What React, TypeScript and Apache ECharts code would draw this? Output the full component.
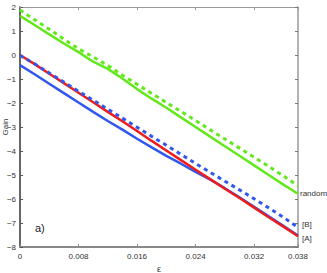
import React, { useEffect, useRef } from "react";
import * as echarts from "echarts";

const eps = [0, 0.002, 0.004, 0.006, 0.008, 0.01, 0.012, 0.014, 0.016, 0.018, 0.02, 0.022, 0.024, 0.026, 0.028, 0.03, 0.032, 0.034, 0.036, 0.038];
const gainA = [0, -0.38, -0.78, -1.17, -1.57, -1.97, -2.37, -2.76, -3.17, -3.58, -3.98, -4.38, -4.78, -5.17, -5.57, -5.96, -6.36, -6.76, -7.15, -7.55];
const gainBlue = [-0.42, -0.8, -1.2, -1.59, -1.98, -2.37, -2.75, -3.11, -3.49, -3.85, -4.2, -4.53, -4.87, -5.19, -5.55, -5.93, -6.32, -6.72, -7.12, -7.52];
const gainB = [-0.02, -0.37, -0.75, -1.13, -1.51, -1.88, -2.26, -2.63, -3.01, -3.39, -3.76, -4.14, -4.52, -4.89, -5.26, -5.62, -5.99, -6.37, -6.76, -7.18];
const gainRandom = [1.63, 1.25, 0.86, 0.48, 0.12, -0.28, -0.58, -0.98, -1.42, -1.82, -2.2, -2.6, -3.0, -3.4, -3.8, -4.2, -4.6, -5.0, -5.4, -5.78];
const gainRandomDash = [1.87, 1.47, 1.07, 0.66, 0.26, -0.08, -0.44, -0.84, -1.22, -1.6, -1.98, -2.35, -2.73, -3.12, -3.5, -3.88, -4.26, -4.64, -5.04, -5.45];

const pts = (ys: number[]) => eps.map((x, i) => [x, ys[i]]);

const FONT = "Liberation Sans";
const txt = "#333";

export default function App() {
  const ref = useRef<HTMLDivElement>(null);
  useEffect(() => {
    document.body.style.margin = "0";
    const chart = echarts.init(ref.current!, null, { renderer: "svg" });
    const green = "#63e81c";
    const red = "#ee1c1c";
    const blue = "#3158ee";
    const lineSeries = (name: string, ys: number[], color: string, dashed: boolean, label?: string, offset?: number[]) => ({
      type: "line",
      name,
      data: pts(ys),
      showSymbol: false,
      symbol: "none",
      lineStyle: { color, width: dashed ? 3 : 2.5, type: dashed ? [4, 4] : "solid" },
      z: dashed ? 3 : 2,
      endLabel: label
        ? {
            show: true,
            formatter: label,
            fontSize: 8,
            fontFamily: FONT,
            color: txt,
            distance: 2,
            offset: offset || [0, 0],
          }
        : { show: false },
    });
    chart.setOption({
      animation: false,
      grid: { left: 20, right: 29, top: 7, bottom: 26, containLabel: false, outerBoundsMode: "none" },
      xAxis: [
        {
          type: "value",
          min: 0,
          max: 0.038,
          interval: 0.008,
          name: "ε",
          nameLocation: "middle",
          nameGap: 17,
          nameTextStyle: { fontSize: 9, fontFamily: FONT, color: txt },
          axisLine: { onZero: false, lineStyle: { color: "#888", width: 2 } },
          axisTick: { inside: true, length: 3, lineStyle: { color: "#888" } },
          axisLabel: {
            fontSize: 8,
            fontFamily: FONT,
            color: txt,
            margin: 5,
            formatter: (v: number) => (v === 0 ? "0" : v.toFixed(3)),
          },
          splitLine: { show: false },
        },
        {
          type: "value",
          position: "top",
          min: 0,
          max: 0.038,
          interval: 0.008,
          axisLine: { onZero: false, lineStyle: { color: "#999", width: 1 } },
          axisTick: { inside: true, length: 3, lineStyle: { color: "#999" } },
          axisLabel: { show: false },
          splitLine: { show: false },
        },
      ],
      yAxis: [
        {
          type: "value",
          min: -8,
          max: 2,
          interval: 1,
          axisLine: { show: true, onZero: false, lineStyle: { color: "#333", width: 1.5 } },
          axisTick: { show: true, inside: true, length: 3, lineStyle: { color: "#555" } },
          axisLabel: {
            fontSize: 8,
            fontFamily: FONT,
            color: txt,
            margin: 4,
            formatter: (v: number) => String(v).replace("-", "\u2212"),
          },
          splitLine: { show: false },
        },
        {
          type: "value",
          position: "right",
          min: -8,
          max: 2,
          interval: 1,
          axisLine: { show: true, onZero: false, lineStyle: { color: "#999", width: 1.5 } },
          axisTick: { show: true, inside: true, length: 3, lineStyle: { color: "#777" } },
          axisLabel: { show: false },
          splitLine: { show: false },
        },
      ],
      series: [
        lineSeries("randomDash", gainRandomDash, green, true),
        lineSeries("random", gainRandom, green, false, "random", [0, 0]),
        lineSeries("blue", gainBlue, blue, false),
        lineSeries("B", gainB, blue, true, "[B]", [2, -3]),
        lineSeries("A", gainA, red, false, "[A]", [2, 2]),
      ],
      graphic: [
        {
          type: "text",
          left: 35,
          top: 222,
          style: { text: "a)", fontSize: 11, fontFamily: FONT, fill: "#222" },
        },
        {
          type: "text",
          x: 5,
          y: 127,
          rotation: Math.PI / 2,
          style: {
            text: "Gain",
            fontSize: 8,
            fontFamily: FONT,
            fill: txt,
            align: "center",
            verticalAlign: "middle",
          },
        },
      ],
    });
    return () => chart.dispose();
  }, []);
  return <div ref={ref} style={{ width: 327, height: 273 }} />;
}
